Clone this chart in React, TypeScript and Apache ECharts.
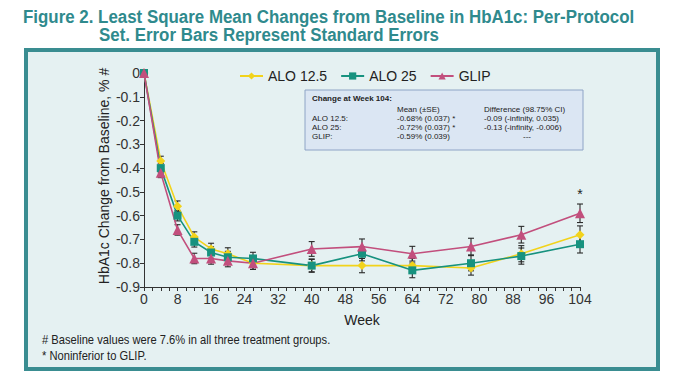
import React, { useEffect, useRef } from "react";
import * as echarts from "echarts";

const weeks = [0, 4, 8, 12, 16, 20, 26, 40, 52, 64, 78, 90, 104];
const alo125 = [0, -0.37, -0.56, -0.69, -0.74, -0.76, -0.8, -0.81, -0.81, -0.81, -0.82, -0.76, -0.68];
const alo25 = [0, -0.4, -0.6, -0.71, -0.755, -0.775, -0.78, -0.81, -0.76, -0.83, -0.8, -0.77, -0.72];
const glip = [0, -0.42, -0.66, -0.78, -0.78, -0.79, -0.8, -0.74, -0.73, -0.76, -0.73, -0.68, -0.59];
const se125 = [0, 0.02, 0.022, 0.022, 0.024, 0.025, 0.026, 0.028, 0.03, 0.03, 0.03, 0.034, 0.037];
const se25 = [0, 0.02, 0.022, 0.022, 0.024, 0.025, 0.026, 0.026, 0.03, 0.031, 0.032, 0.034, 0.037];
const seGlip = [0, 0.02, 0.022, 0.022, 0.024, 0.025, 0.026, 0.031, 0.032, 0.031, 0.035, 0.035, 0.039];

const seriesNames = ["ALO 12.5", "ALO 25", "GLIP"];
const colors = ["#f2d31b", "#17927f", "#c24f7d"];
const symbols = ["diamond", "rect", "triangle"];
const symbolSizes = [9, 8, 10];

const titleLines = [
  "Figure 2. Least Square Mean Changes from Baseline in HbA1c: Per-Protocol",
  "Set. Error Bars Represent Standard Errors",
];
const yAxisTitle = "HbA1c Change from Baseline, % #";
const xAxisTitle = "Week";
const footnotes = [
  "# Baseline values were 7.6% in all three treatment groups.",
  "* Noninferior to GLIP.",
];
const insetTitle = "Change at Week 104:";
const insetHeaders = ["Mean (\u00b1SE)", "Difference (98.75% CI)"];
const insetLabels = ["ALO 12.5:", "ALO 25:", "GLIP:"];
const insetMeans = ["-0.68% (0.037) *", "-0.72% (0.037) *", "-0.59% (0.039)"];
const insetDiffs = ["-0.09 (-infinity, 0.035)", "-0.13 (-infinity, -0.006)", "---"];

const SANS = "'Liberation Sans', Arial, sans-serif";

export default function App() {
  const ref = useRef<HTMLDivElement>(null);
  useEffect(() => {
    if (!ref.current) return;
    const chart = echarts.init(ref.current, null, { renderer: "svg" });
    const values = [alo125, alo25, glip];
    const ses = [se125, se25, seGlip];

    const lineSeries = values.map((vals, i) => ({
      name: seriesNames[i],
      type: "line",
      data: weeks.map((w, j) => [w, vals[j]]),
      symbol: symbols[i],
      symbolSize: symbolSizes[i],
      showSymbol: true,
      lineStyle: { color: colors[i], width: 1.6 },
      itemStyle: { color: colors[i] },
      z: 3,
      markPoint:
        i === 2
          ? {
              symbol: "rect",
              symbolSize: [1, 1],
              itemStyle: { color: "rgba(0,0,0,0)" },
              label: {
                show: true,
                formatter: "*",
                position: "top",
                distance: 12,
                color: "#222",
                fontSize: 14,
                fontFamily: SANS,
              },
              data: [{ coord: [weeks[weeks.length - 1], vals[vals.length - 1]] }],
            }
          : undefined,
    }));

    const errSeries = values.map((vals, i) => ({
      name: seriesNames[i] + " SE",
      type: "custom",
      z: 2,
      data: weeks
        .map((w, j) => [w, vals[j] - ses[i][j], vals[j] + ses[i][j]])
        .filter((d, j) => ses[i][j] > 0),
      encode: { x: 0, y: [1, 2] },
      renderItem: (params: any, api: any) => {
        const x = api.value(0);
        const lo = api.coord([x, api.value(1)]);
        const hi = api.coord([x, api.value(2)]);
        const hw = 3;
        const style = { stroke: "#2a2a2a", lineWidth: 1.1 };
        return {
          type: "group",
          children: [
            { type: "line", shape: { x1: lo[0], y1: lo[1], x2: hi[0], y2: hi[1] }, style },
            { type: "line", shape: { x1: lo[0] - hw, y1: lo[1], x2: lo[0] + hw, y2: lo[1] }, style },
            { type: "line", shape: { x1: hi[0] - hw, y1: hi[1], x2: hi[0] + hw, y2: hi[1] }, style },
          ],
        };
      },
    }));

    const insetX = 305;
    const insetY = 90;
    const rowY = (i: number) => insetY + 28 + i * 9;
    const small = `8px ${SANS}`;
    const graphic: any[] = [
      {
        type: "rect",
        z: -100,
        shape: { x: 26, y: 50, width: 632, height: 319 },
        style: { fill: "#e5f1f2", stroke: "#3a8d91", lineWidth: 4 },
      },
      ...titleLines.map((t, i) => ({
        type: "text",
        x: i === 0 ? 23 : 99,
        y: i === 0 ? 17 : 35,
        scaleX: 0.89,
        style: {
          text: t,
          fill: "#2f8a8d",
          font: `bold 19px ${SANS}`,
          verticalAlign: "middle",
          align: "left",
        },
      })),
      {
        type: "text",
        x: 104,
        y: 176,
        rotation: Math.PI / 2,
        style: {
          text: yAxisTitle,
          fill: "#222",
          font: `14px ${SANS}`,
          align: "center",
          verticalAlign: "middle",
        },
      },
      ...footnotes.map((t, i) => ({
        type: "text",
        x: 42,
        y: 340 + i * 16,
        scaleX: 0.93,
        style: { text: t, fill: "#222", font: `12px ${SANS}`, verticalAlign: "middle" },
      })),
      {
        type: "rect",
        shape: { x: insetX, y: insetY, width: 278, height: 60 },
        style: { fill: "#dbe6f3", stroke: "#8ea4c6", lineWidth: 1 },
      },
      {
        type: "text",
        x: insetX + 7,
        y: insetY + 8,
        style: { text: insetTitle, fill: "#222", font: `bold 8px ${SANS}`, verticalAlign: "middle" },
      },
      ...insetHeaders.map((t, i) => ({
        type: "text",
        x: i === 0 ? insetX + 92 : insetX + 179,
        y: insetY + 19,
        style: { text: t, fill: "#222", font: small, verticalAlign: "middle" },
      })),
      ...insetLabels.map((t, i) => ({
        type: "text",
        x: insetX + 7,
        y: rowY(i),
        style: { text: t, fill: "#222", font: small, verticalAlign: "middle" },
      })),
      ...insetMeans.map((t, i) => ({
        type: "text",
        x: insetX + 92,
        y: rowY(i),
        style: { text: t, fill: "#222", font: small, verticalAlign: "middle" },
      })),
      ...insetDiffs.map((t, i) => ({
        type: "text",
        x: t === "---" ? insetX + 222 : insetX + 179,
        y: rowY(i),
        style: {
          text: t,
          fill: "#222",
          font: small,
          verticalAlign: "middle",
          align: t === "---" ? "center" : "left",
        },
      })),
    ];

    chart.setOption({
      animation: false,
      backgroundColor: "#ffffff",
      grid: { left: 144, right: 105, top: 73, bottom: 98 },
      legend: {
        data: seriesNames,
        left: 239,
        top: 69,
        padding: 0,
        itemWidth: 23,
        itemHeight: 9,
        itemGap: 13,
        textStyle: { fontSize: 14, color: "#222", fontFamily: SANS },
      },
      xAxis: {
        type: "value",
        min: 0,
        max: 104,
        interval: 8,
        position: "bottom",
        name: xAxisTitle,
        nameLocation: "middle",
        nameGap: 26,
        nameTextStyle: { fontSize: 14, color: "#222", fontFamily: SANS },
        axisLine: { show: true, onZero: false, lineStyle: { color: "#333", width: 1 } },
        axisTick: { show: true, length: 4, lineStyle: { color: "#333" } },
        minorTick: { show: true, splitNumber: 4, length: 4, lineStyle: { color: "#333" } },
        splitLine: { show: false },
        axisLabel: { fontSize: 14, color: "#333", fontFamily: SANS, margin: 5 },
      },
      yAxis: {
        type: "value",
        min: -0.9,
        max: 0,
        interval: 0.1,
        position: "left",
        axisLine: { show: true, onZero: false, lineStyle: { color: "#333", width: 1 } },
        axisTick: { show: true, length: 4, lineStyle: { color: "#333" } },
        splitLine: { show: false },
        axisLabel: {
          fontSize: 14,
          color: "#333",
          fontFamily: SANS,
          margin: 4,
          formatter: (v: number) => String(Math.round(v * 10) / 10 || 0),
        },
      },
      graphic,
      series: [...errSeries, ...lineSeries],
    });
    return () => chart.dispose();
  }, []);
  return (
    <div
      ref={ref}
      style={{ position: "fixed", left: 0, top: 0, width: 685, height: 385, background: "#fff" }}
    />
  );
}
